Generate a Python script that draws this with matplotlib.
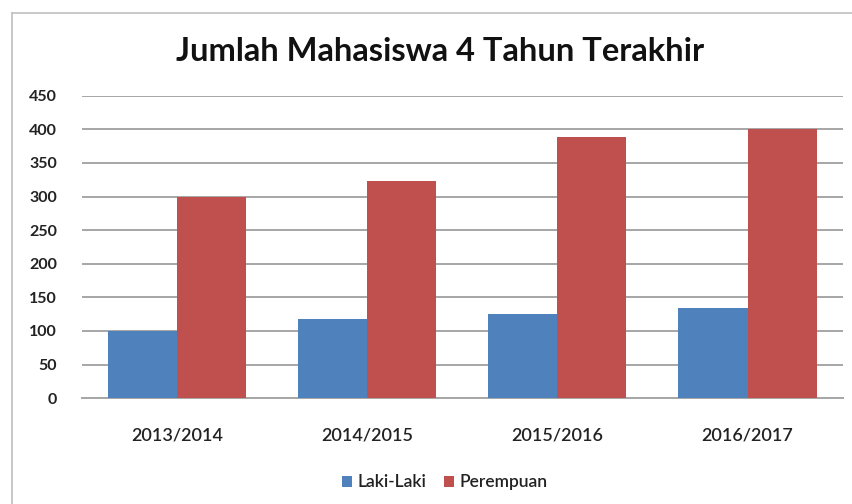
import numpy as np
import matplotlib
matplotlib.use("Agg")
import matplotlib.pyplot as plt
from matplotlib.lines import Line2D

plt.rcParams['font.family'] = ['Lato', 'DejaVu Sans']

tahun = ['2013/2014', '2014/2015', '2015/2016', '2016/2017']
laki = [100, 118, 125, 134]
perempuan = [300, 323, 389, 400]

fig = plt.figure(figsize=(8.52, 5.04), dpi=100)
ax = fig.add_axes([0.096, 0.210, 0.893, 0.600])

x = np.arange(len(tahun))
w = 0.363
ax.bar(x - w / 2, laki, w, color='#4F81BD', label='Laki-Laki', zorder=3)
ax.bar(x + w / 2, perempuan, w, color='#C0504D', label='Perempuan', zorder=3)

ax.set_xlim(-0.5, len(tahun) - 0.5)
ax.set_ylim(0, 450)
ax.set_yticks(range(0, 451, 50))
ax.yaxis.grid(True, color='#A6A6A6', linewidth=1.4, zorder=0)
ax.set_axisbelow(True)
for s in ['top', 'right', 'left']:
    ax.spines[s].set_visible(False)
ax.spines['bottom'].set_color('#A6A6A6')
ax.spines['bottom'].set_linewidth(1.4)
ax.tick_params(axis='both', length=0, colors='#222222')
ax.tick_params(axis='y', pad=18, labelsize=11.5)
ax.tick_params(axis='x', pad=21, labelsize=13)
ax.set_xticks(x)
ax.set_xticklabels(tahun)
for lbl in ax.get_yticklabels():
    lbl.set_fontweight('bold')
for lbl in ax.get_xticklabels():
    lbl.set_fontweight('semibold')

fig.text(0.517, 0.897, 'Jumlah Mahasiswa 4 Tahun Terakhir', ha='center', va='center',
         fontsize=23.5, fontweight='bold', color='#111111')

leg = ax.legend(loc='center', bbox_to_anchor=(0.477, -0.278), ncol=2, frameon=False,
                fontsize=12.5, handlelength=0.6, handleheight=0.6, handletextpad=0.3,
                columnspacing=1.0)
for t in leg.get_texts():
    t.set_fontweight('semibold')
    t.set_color('#222222')

# outer chart border
fig.add_artist(Line2D([12 / 852, 12 / 852], [0, 1 - 13 / 504], color='#BFBFBF', linewidth=1.2))
fig.add_artist(Line2D([12 / 852, 1], [1 - 13 / 504, 1 - 13 / 504], color='#BFBFBF', linewidth=1.2))

fig.savefig('out.png', dpi=100)
